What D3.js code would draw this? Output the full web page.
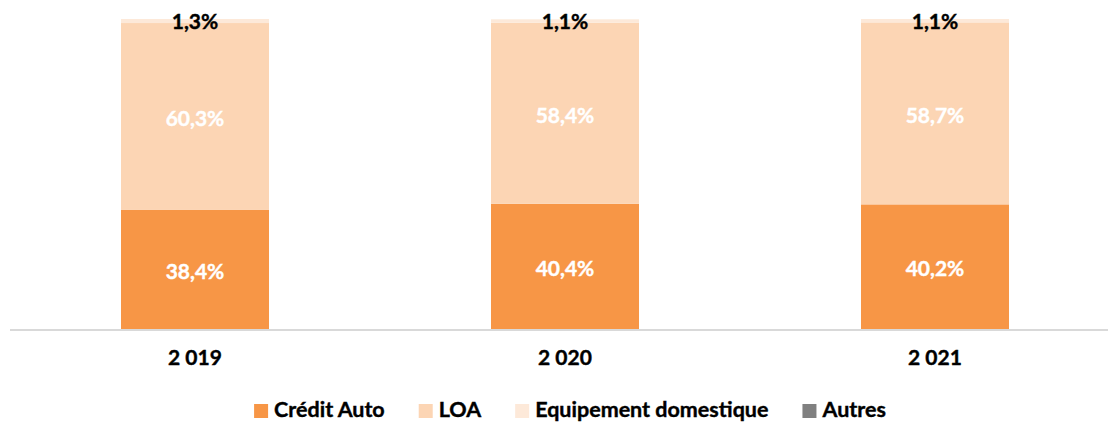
<!DOCTYPE html>
<html>
<head>
<meta charset="utf-8">
<script src="https://cdn.jsdelivr.net/npm/d3@7"></script>
<style>
  body { margin: 0; background: #fff; }
  text { font-family: Lato, "Open Sans", sans-serif; font-weight: bold; stroke-width: 0.4px; }
</style>
</head>
<body>
<div id="chart"></div>
<script>
var years = ["2 019", "2 020", "2 021"];
var series = ["Crédit Auto", "LOA", "Equipement domestique", "Autres"];
var creditAuto = [38.4, 40.4, 40.2];
var loa = [60.3, 58.4, 58.7];
var equipement = [1.3, 1.1, 1.1];
var autres = [0.0, 0.0, 0.0];

var colors = ["#f79646", "#fcd5b4", "#fde9d9", "#808080"];

var outerWidth = 1108,
    outerHeight = 423;

var rows = years.map(function(y, i) {
    return {year: y, "Crédit Auto": creditAuto[i], "LOA": loa[i],
            "Equipement domestique": equipement[i], "Autres": autres[i]};
});

var x = d3.scaleBand()
    .domain(years)
    .range([10, 1120])
    .paddingInner(0.6)
    .paddingOuter(0.3);

var y = d3.scaleLinear()
    .domain([0, 100])
    .range([329, 19]);

var stacked = d3.stack().keys(series)(rows);

var svg = d3.select("#chart")
    .append("svg")
    .attr("width", outerWidth)
    .attr("height", outerHeight);

// baseline
svg.append("line")
    .attr("x1", 10).attr("x2", 1108)
    .attr("y1", 330).attr("y2", 330)
    .attr("stroke", "#d9d9d9")
    .attr("stroke-width", 2);

var layers = svg.selectAll(".layer")
    .data(stacked)
    .enter().append("g")
    .attr("class", "layer")
    .attr("fill", function(d, i) { return colors[i]; });

layers.selectAll("rect")
    .data(function(d) { return d; })
    .enter().append("rect")
    .attr("x", function(d) { return x(d.data.year); })
    .attr("width", x.bandwidth())
    .attr("y", function(d) { return y(d[1]); })
    .attr("height", function(d) { return Math.max(0, y(d[0]) - y(d[1])); });

// labels for first three series
stacked.slice(0, 3).forEach(function(layer, li) {
    var c = li == 2 ? "#000" : "#fff";
    svg.selectAll(".lab" + li)
        .data(layer)
        .enter().append("text")
        .attr("x", function(d) { return x(d.data.year) + x.bandwidth() / 2; })
        .attr("y", function(d) {
            if (li == 2) return 22;
            return (y(d[0]) + y(d[1])) / 2 + 2;
        })
        .attr("dy", "0.35em")
        .attr("text-anchor", "middle")
        .attr("font-size", "21px")
        .attr("fill", c)
        .attr("stroke", c)
        .text(function(d) { return (d[1] - d[0]).toFixed(1).replace(".", ",") + "%"; });
});

// category labels
svg.selectAll(".cat")
    .data(years)
    .enter().append("text")
    .attr("x", function(d) { return x(d) + x.bandwidth() / 2; })
    .attr("y", 358)
    .attr("dy", "0.35em")
    .attr("text-anchor", "middle")
    .attr("font-size", "21px")
    .attr("fill", "#000")
    .attr("stroke", "#000")
    .text(function(d) { return d; });

// legend
var gap = 34;
var legend = svg.append("g");
var lx = 0;
series.forEach(function(s, i) {
    var g = legend.append("g").attr("transform", "translate(" + lx + ",0)");
    g.append("rect")
        .attr("x", 0).attr("y", -7)
        .attr("width", 14).attr("height", 14)
        .attr("fill", colors[i]);
    var t = g.append("text")
        .attr("x", 20).attr("y", 0)
        .attr("dy", "0.3em")
        .attr("font-size", "21.5px")
        .attr("fill", "#000")
        .attr("stroke", "#000")
        .text(s);
    lx += 20 + t.node().getComputedTextLength() + gap;
});
var legW = lx - gap;
legend.attr("transform", "translate(" + (570 - legW / 2) + ",411)");
</script>
</body>
</html>
